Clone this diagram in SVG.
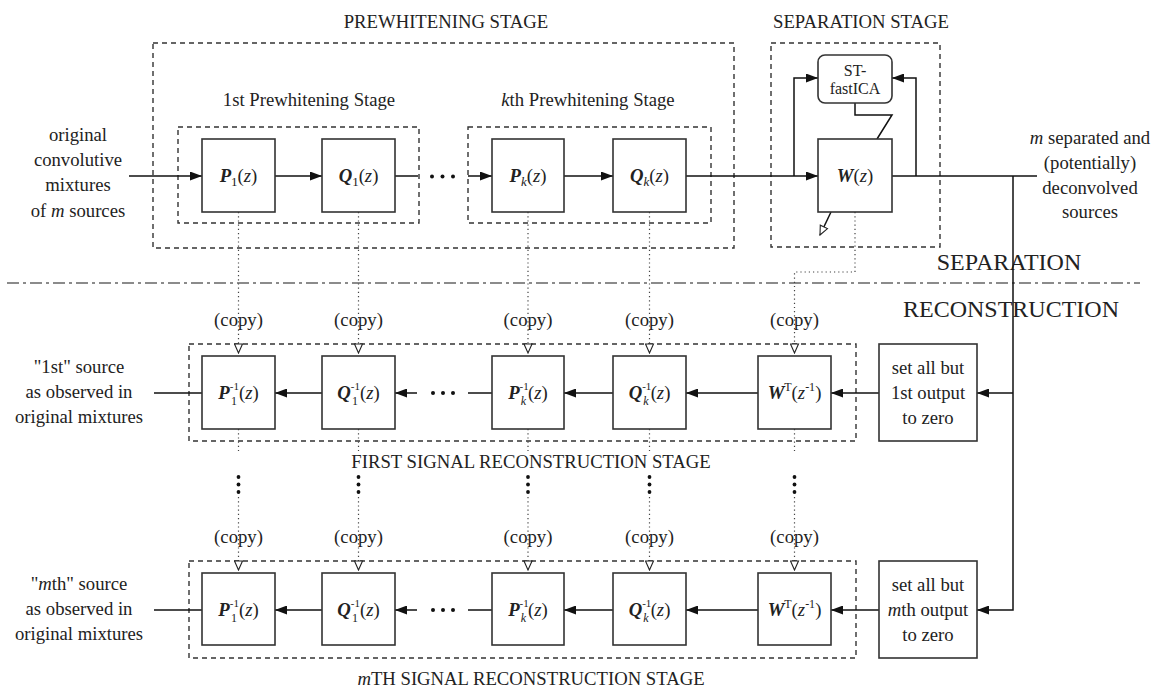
<svg xmlns="http://www.w3.org/2000/svg" width="1155" height="688" viewBox="0 0 1155 688">
<style>
text{font-family:"Liberation Serif","Times New Roman",serif;fill:#222;font-size:18.7px}
.c{text-anchor:middle}
.big{font-size:24px;text-anchor:middle}
.sm{font-size:16px;text-anchor:middle}
.bi{font-weight:bold;font-style:italic}
.i{font-style:italic}
.sup{font-size:11px}
.sub{font-size:12px}
.box{fill:#fff;stroke:#333;stroke-width:1.6}
.dbox{fill:none;stroke:#333;stroke-width:1.4;stroke-dasharray:5,4}
.ln{fill:none;stroke:#111;stroke-width:1.5}
.arr{marker-end:url(#ah)}
.dot{fill:none;stroke:#444;stroke-width:1.2;stroke-dasharray:1.2,3}
.hol{marker-end:url(#hol)}
.sep{fill:none;stroke:#666;stroke-width:1.6;stroke-dasharray:12,4,3,4}
</style>
<defs>
<marker id="ah" viewBox="0 0 12 9" refX="12" refY="4.5" markerWidth="12" markerHeight="9" markerUnits="userSpaceOnUse" orient="auto"><path d="M0,0 L12,4.5 L0,9 z" fill="#111"/></marker>
<marker id="hol" viewBox="-1 -1 11 10" refX="9" refY="4" markerWidth="11" markerHeight="10" markerUnits="userSpaceOnUse" orient="auto"><path d="M0,0 L9,4 L0,8 z" fill="#fff" stroke="#222" stroke-width="1.1"/></marker>
</defs>
<rect width="1155" height="688" fill="#fff"/>

<g id="stage-frames">
<rect class="dbox" x="153" y="43" width="581" height="205"/>
<rect class="dbox" x="178" y="127" width="241" height="96"/>
<rect class="dbox" x="468" y="127" width="243" height="96"/>
<rect class="dbox" x="771" y="43" width="169" height="204"/>
<rect class="dbox" x="189" y="344" width="667" height="97"/>
<rect class="dbox" x="189" y="561" width="667" height="97"/>
<path class="sep" d="M7,283 H1140"/>
</g>

<g id="labels">
<text class="c" x="446" y="28">PREWHITENING STAGE</text>
<text class="c" x="861" y="28">SEPARATION STAGE</text>
<text class="c" x="309" y="106">1st Prewhitening Stage</text>
<text class="c" x="588" y="106"><tspan class="i">k</tspan>th Prewhitening Stage</text>
<text class="c" x="78"><tspan x="78" y="141">original</tspan><tspan x="78" y="166">convolutive</tspan><tspan x="78" y="191">mixtures</tspan><tspan x="78" y="217">of <tspan class="i">m</tspan> sources</tspan></text>
<text class="c"><tspan x="1090" y="144"><tspan class="i">m</tspan> separated and</tspan><tspan x="1090" y="169">(potentially)</tspan><tspan x="1090" y="194">deconvolved</tspan><tspan x="1090" y="218">sources</tspan></text>
<text class="big" x="1009" y="270">SEPARATION</text>
<text class="big" x="1011" y="317">RECONSTRUCTION</text>
<text class="c"><tspan x="79" y="373">"1st" source</tspan><tspan x="79" y="398">as observed in</tspan><tspan x="79" y="423">original mixtures</tspan></text>
<text class="c"><tspan x="79" y="590">"<tspan class="i">m</tspan>th" source</tspan><tspan x="79" y="615">as observed in</tspan><tspan x="79" y="640">original mixtures</tspan></text>
<text class="c" x="531" y="468">FIRST SIGNAL RECONSTRUCTION STAGE</text>
<text class="c" x="531" y="685"><tspan class="i">m</tspan>TH SIGNAL RECONSTRUCTION STAGE</text>
<g class="copy">
<text class="c" x="238.5" y="326">(copy)</text>
<text class="c" x="358.5" y="326">(copy)</text>
<text class="c" x="528" y="326">(copy)</text>
<text class="c" x="649.5" y="326">(copy)</text>
<text class="c" x="794.5" y="326">(copy)</text>
<text class="c" x="238.5" y="543">(copy)</text>
<text class="c" x="358.5" y="543">(copy)</text>
<text class="c" x="528" y="543">(copy)</text>
<text class="c" x="649.5" y="543">(copy)</text>
<text class="c" x="794.5" y="543">(copy)</text>
</g>
</g>

<g id="connectors">
<path class="ln arr" d="M129,176 H202"/>
<path class="ln arr" d="M275,176 H322"/>
<path class="ln" d="M395,176 H418"/>
<path class="ln arr" d="M468,176 H492"/>
<path class="ln arr" d="M564,176 H613"/>
<path class="ln arr" d="M686,176 H818"/>
<path class="ln arr" d="M794,176 V78 H818"/>
<path class="ln" d="M892,176 H1037"/>
<path class="ln arr" d="M916,176 V78 H892"/>
<path class="ln" d="M855,103 V115 H892 L877,139"/>
<path class="ln hol" d="M831,212 L820,235"/>
<path class="ln arr" d="M1013,176 V610 H977"/>
<path class="ln arr" d="M1013,393 H977"/>
<path class="ln arr" d="M879,393 H831"/>
<path class="ln arr" d="M758,393 H686"/>
<path class="ln arr" d="M613,393 H564"/>
<path class="ln" d="M492,393 H468"/>
<path class="ln arr" d="M417,393 H395"/>
<path class="ln arr" d="M322,393 H275"/>
<path class="ln" d="M202,393 H154"/>
<path class="ln arr" d="M879,610 H831"/>
<path class="ln arr" d="M758,610 H686"/>
<path class="ln arr" d="M613,610 H564"/>
<path class="ln" d="M492,610 H468"/>
<path class="ln arr" d="M417,610 H395"/>
<path class="ln arr" d="M322,610 H275"/>
<path class="ln" d="M202,610 H154"/>
<path class="dot hol" d="M238.5,212 V353"/>
<path class="dot hol" d="M358.5,212 V353"/>
<path class="dot hol" d="M528,212 V353"/>
<path class="dot hol" d="M649.5,212 V353"/>
<path class="dot hol" d="M855,212 V272 H794.5 V353"/>
<path class="dot" d="M238.5,429 V451"/>
<path class="dot" d="M358.5,429 V451"/>
<path class="dot" d="M528,429 V451"/>
<path class="dot" d="M649.5,429 V451"/>
<path class="dot" d="M794.5,429 V451"/>
<path class="dot hol" d="M238.5,497 V570"/>
<path class="dot hol" d="M358.5,497 V570"/>
<path class="dot hol" d="M528,497 V570"/>
<path class="dot hol" d="M649.5,497 V570"/>
<path class="dot hol" d="M794.5,497 V570"/>
<g id="ellipses" fill="#111">
<circle cx="432" cy="176.5" r="2"/><circle cx="442.5" cy="176.5" r="2"/><circle cx="453" cy="176.5" r="2"/>
<circle cx="433" cy="393" r="2"/><circle cx="443" cy="393" r="2"/><circle cx="453" cy="393" r="2"/>
<circle cx="433" cy="610" r="2"/><circle cx="443" cy="610" r="2"/><circle cx="453" cy="610" r="2"/>
<circle cx="238.5" cy="477" r="1.9"/><circle cx="238.5" cy="484.5" r="1.9"/><circle cx="238.5" cy="492" r="1.9"/>
<circle cx="358.5" cy="477" r="1.9"/><circle cx="358.5" cy="484.5" r="1.9"/><circle cx="358.5" cy="492" r="1.9"/>
<circle cx="528" cy="477" r="1.9"/><circle cx="528" cy="484.5" r="1.9"/><circle cx="528" cy="492" r="1.9"/>
<circle cx="649.5" cy="477" r="1.9"/><circle cx="649.5" cy="484.5" r="1.9"/><circle cx="649.5" cy="492" r="1.9"/>
<circle cx="794.5" cy="477" r="1.9"/><circle cx="794.5" cy="484.5" r="1.9"/><circle cx="794.5" cy="492" r="1.9"/>
</g>
</g>

<g id="P1">
<rect class="box" x="202" y="139" width="73" height="73"/>
<text class="c" x="238.5" y="182"><tspan class="bi">P</tspan><tspan font-size="13" dy="4">1</tspan><tspan dy="-4">(</tspan><tspan class="i">z</tspan>)</text>
</g>
<g id="Q1">
<rect class="box" x="322" y="139" width="73" height="73"/>
<text class="c" x="358.5" y="182"><tspan class="bi">Q</tspan><tspan font-size="13" dy="4">1</tspan><tspan dy="-4">(</tspan><tspan class="i">z</tspan>)</text>
</g>
<g id="Pk">
<rect class="box" x="492" y="139" width="72" height="73"/>
<text class="c" x="528" y="182"><tspan class="bi">P</tspan><tspan font-size="13" class="i" dy="4">k</tspan><tspan dy="-4">(</tspan><tspan class="i">z</tspan>)</text>
</g>
<g id="Qk">
<rect class="box" x="613" y="139" width="73" height="73"/>
<text class="c" x="649.5" y="182"><tspan class="bi">Q</tspan><tspan font-size="13" class="i" dy="4">k</tspan><tspan dy="-4">(</tspan><tspan class="i">z</tspan>)</text>
</g>
<g id="W">
<rect class="box" x="818" y="139" width="74" height="73"/>
<text class="c" x="855" y="182"><tspan class="bi">W</tspan>(<tspan class="i">z</tspan>)</text>
</g>
<g id="STfastICA">
<rect class="box" x="818" y="55" width="74" height="48" rx="7"/>
<text class="sm"><tspan x="855" y="76">ST-</tspan><tspan x="855" y="94">fastICA</tspan></text>
</g>

<g id="P1inv-1">
<rect class="box" x="202" y="356" width="73" height="73"/>
<text class="c" x="238.5" y="399"><tspan class="bi">P</tspan><tspan class="sup" dy="-9">-1</tspan><tspan class="sub" dx="-8" dy="15">1</tspan><tspan dx="2" dy="-6">(</tspan><tspan class="i">z</tspan>)</text>
</g>
<g id="Q1inv-1">
<rect class="box" x="322" y="356" width="73" height="73"/>
<text class="c" x="358.5" y="399"><tspan class="bi">Q</tspan><tspan class="sup" dy="-9">-1</tspan><tspan class="sub" dx="-8" dy="15">1</tspan><tspan dx="2" dy="-6">(</tspan><tspan class="i">z</tspan>)</text>
</g>
<g id="Pkinv-1">
<rect class="box" x="492" y="356" width="72" height="73"/>
<text class="c" x="528" y="399"><tspan class="bi">P</tspan><tspan class="sup" dy="-9">-1</tspan><tspan class="sub i" dx="-8" dy="15">k</tspan><tspan dx="2" dy="-6">(</tspan><tspan class="i">z</tspan>)</text>
</g>
<g id="Qkinv-1">
<rect class="box" x="613" y="356" width="73" height="73"/>
<text class="c" x="649.5" y="399"><tspan class="bi">Q</tspan><tspan class="sup" dy="-9">-1</tspan><tspan class="sub i" dx="-8" dy="15">k</tspan><tspan dx="2" dy="-6">(</tspan><tspan class="i">z</tspan>)</text>
</g>
<g id="WT-1">
<rect class="box" x="758" y="356" width="73" height="73"/>
<text class="c" x="794.5" y="399"><tspan class="bi">W</tspan><tspan font-size="12" dy="-8">T</tspan><tspan dy="8">(</tspan><tspan class="i">z</tspan><tspan font-size="12" dy="-8">-1</tspan><tspan dy="8">)</tspan></text>
</g>
<g id="zero-1">
<rect class="box" x="879" y="344" width="98" height="97"/>
<text class="c"><tspan x="928" y="374">set all but</tspan><tspan x="928" y="399">1st output</tspan><tspan x="928" y="424">to zero</tspan></text>
</g>

<g id="P1inv-m">
<rect class="box" x="202" y="573" width="73" height="72"/>
<text class="c" x="238.5" y="616"><tspan class="bi">P</tspan><tspan class="sup" dy="-9">-1</tspan><tspan class="sub" dx="-8" dy="15">1</tspan><tspan dx="2" dy="-6">(</tspan><tspan class="i">z</tspan>)</text>
</g>
<g id="Q1inv-m">
<rect class="box" x="322" y="573" width="73" height="72"/>
<text class="c" x="358.5" y="616"><tspan class="bi">Q</tspan><tspan class="sup" dy="-9">-1</tspan><tspan class="sub" dx="-8" dy="15">1</tspan><tspan dx="2" dy="-6">(</tspan><tspan class="i">z</tspan>)</text>
</g>
<g id="Pkinv-m">
<rect class="box" x="492" y="573" width="72" height="72"/>
<text class="c" x="528" y="616"><tspan class="bi">P</tspan><tspan class="sup" dy="-9">-1</tspan><tspan class="sub i" dx="-8" dy="15">k</tspan><tspan dx="2" dy="-6">(</tspan><tspan class="i">z</tspan>)</text>
</g>
<g id="Qkinv-m">
<rect class="box" x="613" y="573" width="73" height="72"/>
<text class="c" x="649.5" y="616"><tspan class="bi">Q</tspan><tspan class="sup" dy="-9">-1</tspan><tspan class="sub i" dx="-8" dy="15">k</tspan><tspan dx="2" dy="-6">(</tspan><tspan class="i">z</tspan>)</text>
</g>
<g id="WT-m">
<rect class="box" x="758" y="573" width="73" height="72"/>
<text class="c" x="794.5" y="616"><tspan class="bi">W</tspan><tspan font-size="12" dy="-8">T</tspan><tspan dy="8">(</tspan><tspan class="i">z</tspan><tspan font-size="12" dy="-8">-1</tspan><tspan dy="8">)</tspan></text>
</g>
<g id="zero-m">
<rect class="box" x="879" y="561" width="98" height="97"/>
<text class="c"><tspan x="928" y="591">set all but</tspan><tspan x="928" y="616"><tspan class="i">m</tspan>th output</tspan><tspan x="928" y="641">to zero</tspan></text>
</g>
</svg>
